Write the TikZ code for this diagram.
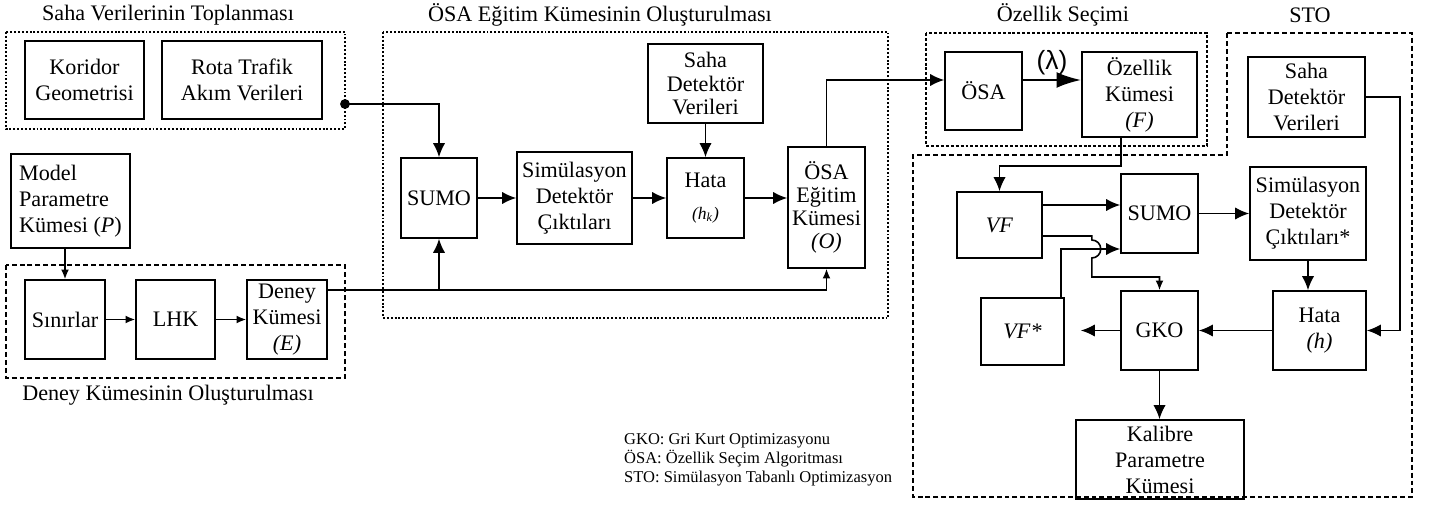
\documentclass[tikz,border=0pt]{standalone}
\usepackage{fontspec}
\setmainfont{Liberation Serif}
\newfontfamily\lamfont{Liberation Sans}
\usetikzlibrary{arrows.meta}

\newcommand{\boxfs}{\fontsize{12.6}{14.8}\selectfont}
\newcommand{\legfs}{\fontsize{9.4}{10.8}\selectfont}

\begin{document}
\begin{tikzpicture}[x=0.02cm, y=-0.02cm,
    every node/.style={font=\boxfs},
    blk/.style={draw, line width=0.9pt, align=center, inner sep=2pt},
    grpdot/.style={line width=0.6pt, dash pattern=on 1.1pt off 1.1pt},
    grpfine/.style={line width=0.8pt, dash pattern=on 1.7pt off 1.1pt},
    grpdash/.style={line width=0.6pt, dash pattern=on 2.8pt off 1.7pt},
    arr/.style={-{Latex[length=8pt, width=7pt]}, line width=0.9pt},
    arrs/.style={-{Latex[length=5.5pt, width=4.5pt]}, line width=0.9pt}]
  \useasboundingbox (0,0) rectangle (1438,510);

  % group frames and titles
  \draw[grpdot] (6,32) rectangle (345,129);
  \draw[grpdash] (6,265) rectangle (345,378);
  \draw[grpdot] (383,32) rectangle (888,318);
  \draw[grpfine] (926,33) rectangle (1207,146);
  \draw[grpdash] (1227,33) -- (1412,33) -- (1412,497) -- (913,497) -- (913,155) -- (1227,155) -- cycle;

  \node (ttlsaha) at (168,15) {Saha Verilerinin Toplanması};
  \node (ttldeney) at (168,395) {Deney Kümesinin Oluşturulması};
  \node (ttlosa) at (600,15) {ÖSA Eğitim Kümesinin Oluşturulması};
  \node (ttlozk) at (1063,15) {Özellik Seçimi};
  \node (ttlsto) at (1310,15) {STO};

  % saha verileri
  \node[blk, minimum width=2.38cm, minimum height=1.56cm] (kor) at (84.5,80) {Koridor\\Geometrisi};
  \node[blk, minimum width=3.2cm, minimum height=1.56cm] (rota) at (242,80) {Rota Trafik\\Akım Verileri};
  \coordinate (sahaout) at (345,104);

  % deney kumesi
  \node[blk, align=left, minimum width=2.38cm, minimum height=1.88cm] (model) at (70.5,201) {Model\\Parametre\\Kümesi (\textit{P})};
  \node[blk, minimum width=1.6cm, minimum height=1.58cm] (sinir) at (65,319.5) {Sınırlar};
  \node[blk, minimum width=1.58cm, minimum height=1.58cm] (lhk) at (175.5,319.5) {LHK};
  \node[blk, minimum width=1.6cm, minimum height=1.58cm] (deney) at (287,319.5) {Deney\\Kümesi\\\textit{(E)}};

  % osa egitim kumesi
  \node[blk, minimum width=1.52cm, minimum height=1.6cm] (sumoa) at (439,198) {SUMO};
  \node[blk, minimum width=2.3cm, minimum height=1.84cm] (sima) at (574.5,198) {Simülasyon\\Detektör\\Çıktıları};
  \node[blk, minimum width=1.54cm, minimum height=1.6cm] (hataa) at (705.5,198) {Hata\\[3pt]{\fontsize{10}{11}\selectfont\itshape (h\textsubscript{k})}};
  \node[blk, font=\fontsize{12.6}{13.2}\selectfont, minimum width=2.3cm, minimum height=1.58cm] (sahaa) at (705.5,83.5) {Saha\\Detektör\\Verileri};
  \node[blk, font=\fontsize{12.6}{13.2}\selectfont, minimum width=1.54cm, minimum height=2.42cm] (osae) at (826.5,207.5) {ÖSA\\Eğitim\\Kümesi\\\textit{(O)}};

  % ozellik secimi
  \node[blk, minimum width=1.54cm, minimum height=1.56cm] (osa) at (983.5,91) {ÖSA};
  \node[blk, minimum width=2.3cm, minimum height=1.7cm] (ozk) at (1139.5,94.5) {Özellik\\Kümesi\\\textit{(F)}};

  % sto
  \node[blk, minimum width=2.34cm, minimum height=1.6cm] (sahab) at (1306.5,97) {Saha\\Detektör\\Verileri};
  \node[blk, minimum width=1.7cm, minimum height=1.32cm] (vf) at (999.5,225) {\textit{VF}};
  \node[blk, minimum width=1.54cm, minimum height=1.58cm] (sumob) at (1159.5,213.5) {SUMO};
  \node[blk, minimum width=2.32cm, minimum height=1.86cm] (simb) at (1308,213.5) {Simülasyon\\Detektör\\Çıktıları*};
  \node[blk, minimum width=1.86cm, minimum height=1.58cm] (hatab) at (1319.5,330.5) {Hata\\\textit{(h)}};
  \node[blk, minimum width=1.54cm, minimum height=1.58cm] (gko) at (1159.5,330.5) {GKO};
  \node[blk, minimum width=1.66cm, minimum height=1.34cm] (vfs) at (1022.5,331.5) {\textit{VF*}};
  \node[blk, minimum width=3.36cm, minimum height=1.58cm] (kal) at (1160,459.5) {Kalibre\\Parametre\\Kümesi};

  \node[align=left, anchor=west, font=\legfs] (leg) at (618,460) {GKO: Gri Kurt Optimizasyonu\\ÖSA: Özellik Seçim Algoritması\\STO: Simülasyon Tabanlı Optimizasyon};

  % connectors, left part
  \fill (sahaout) circle (2.8pt);
  \draw[arr] (sahaout) -| (sumoa.north);
  \draw[arrs] (model.south -| sinir.north) -- (sinir.north);
  \draw[arrs] (sinir) -- (lhk);
  \draw[arrs] (lhk) -- (deney);
  \draw[line width=0.9pt] (deney.east |- 0,290) -- (sumoa.south |- 0,290) coordinate (dj);
  \draw[arr] (dj) -- (sumoa.south);
  \draw[arrs] (dj) -| (osae.south);
  \draw[arr] (sumoa) -- (sima);
  \draw[arr] (sima) -- (hataa);
  \draw[arr] (hataa) -- (hataa -| osae.west);
  \draw[arr] (sahaa) -- (hataa);
  \draw[arr] (osae.north) |- (osa.west |- 0,80);
  \draw[-{Latex[length=14pt, width=9pt]}, line width=1.4pt] (osa.east |- 0,80) -- (ozk.west |- 0,80)
    node[midway, above=-1pt, font={\lamfont\fontsize{15}{16}\selectfont}] {(λ)};

  % connectors, sto
  \draw[arr] ([xshift=-0.37cm]ozk.south) -- ++(0,28) -| (vf.north);
  \draw[arr] (sahab.east) -- ++(34,0) |- (hatab.east);
  \draw[arr] (vf.east |- 0,205) -- (sumob.west |- 0,205);
  \draw[arr] (sumob.east) -- (sumob.east -| simb.west);
  \draw[arr] (simb.south) -- (simb.south |- hatab.north);
  \draw[arr] (hatab) -- (gko);
  \draw[arr, shorten >=0.32cm] (gko.west) -- (gko.west -| vfs.east);
  \draw[arr] (gko.south) -- (gko.south |- kal.north);
  \draw[arr] ([xshift=-0.08cm]vfs.north east) |- (sumob.west |- 0,249);
  \draw[arrs] (vf.east |- 0,236) -- ++(49,0) -- ++(0,4) arc[start angle=90, end angle=-90, radius=0.18cm] -- ++(0,19) -| (gko.north);
\end{tikzpicture}
\end{document}
